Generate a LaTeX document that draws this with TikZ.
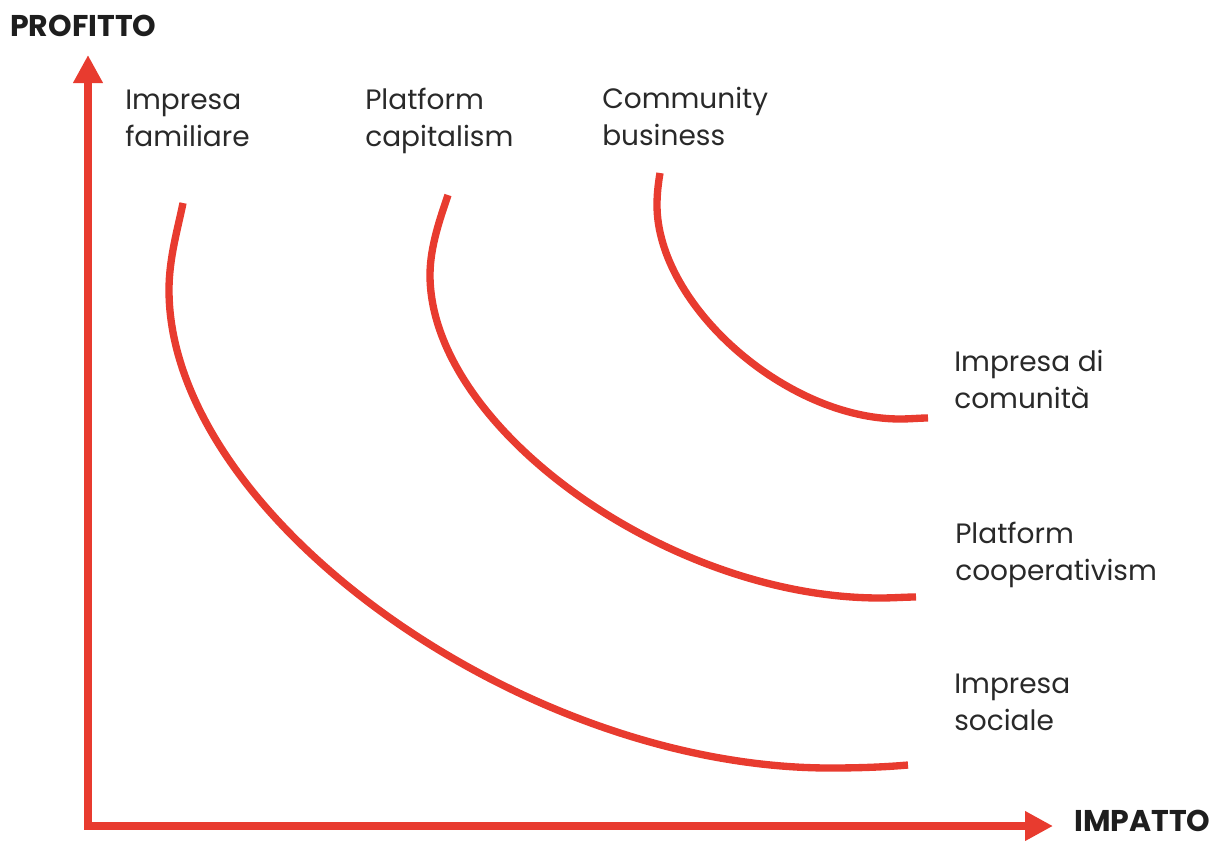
\documentclass[tikz,border=0pt]{standalone}
\usepackage{fontspec}
\setmainfont{Poppins}
\usetikzlibrary{arrows.meta,positioning}
\definecolor{rosso}{RGB}{232,59,47}
\definecolor{testo}{RGB}{30,30,30}

\begin{document}
\begin{tikzpicture}[x=0.75pt,y=-0.75pt,
    asse/.style={rosso,line width=6.5pt,line join=miter,
      {Triangle[width=21pt,length=21pt]}-{Triangle[width=21pt,length=21pt]}},
    curva/.style={rosso,line width=5.5pt},
    etichetta/.style={anchor=base west,inner sep=0pt,align=left,text=testo!95,
      font=\fontsize{21}{27.75}\selectfont},
    titolo/.style={anchor=base west,inner sep=0pt,text=testo,
      font=\fontsize{22.5}{25}\selectfont\bfseries}]
  \useasboundingbox (0,0) rectangle (1215,840);

  % assi
  \coordinate (ytop) at (88,55);
  \coordinate (xend) at (1053,826);
  \draw[asse] (ytop) |- (xend);
  \node[titolo] (profitto) at (10,36) {PROFITTO};
  \node[titolo] (impatto) at (1074,831) {IMPATTO};

  % curve (inizio, punto piu' a sinistra, fondo, fine)
  \draw[curva] (183,203) .. controls (178,228) and (169,258) .. (169,290)
    .. controls (169,515) and (521,768) .. (830,768)
    .. controls (860,768) and (885,767) .. (908,765);
  \draw[curva] (448,195) .. controls (441,216) and (430,246) .. (430,275)
    .. controls (430,427) and (668,598) .. (880,598)
    .. controls (893,598) and (905,597) .. (916,597);
  \draw[curva] (660,173) .. controls (658,185) and (657,195) .. (657,205)
    .. controls (657,305) and (786,419) .. (900,419)
    .. controls (910,419) and (919,418) .. (928,418);

  % etichette
  \node[etichetta] (familiare) at (125,146) {Impresa\\familiare};
  \node[etichetta] (capitalism) at (365,146) {Platform\\capitalism};
  \node[etichetta] (community) at (602,145) {Community\\business};
  \node[etichetta] (comunita) at (954,408) {Impresa di\\comunità};
  \node[etichetta] (cooperativism) at (955,580) {Platform\\cooperativism};
  \node[etichetta] (sociale) at (954,730) {Impresa\\sociale};
\end{tikzpicture}
\end{document}
